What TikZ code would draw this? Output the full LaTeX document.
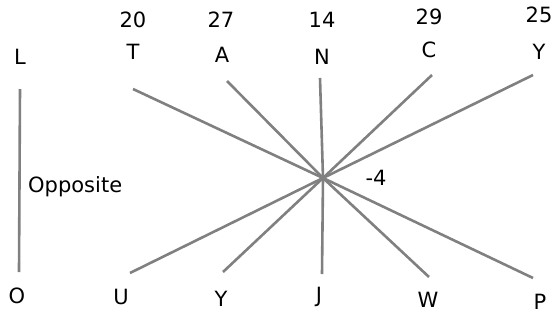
\documentclass[tikz,border=0pt]{standalone}
\usepackage{fontspec}
\setmainfont{DejaVu Sans}
\usepackage{tikz}

\begin{document}
\begin{tikzpicture}[
  x=1pt, y=-1pt,
  spoke/.style={draw=black!50, line width=2.6pt},
  letter/.style={font=\fontsize{21}{25}\selectfont, inner sep=0pt},
  score/.style={font=\fontsize{21}{25}\selectfont, inner sep=0pt}
]
\useasboundingbox (0,0) rectangle (556,332);

% Centre of the star
\coordinate (hub) at (323,178);

% Top row: letters and scores
\node[letter] (l) at (20,57) {L};
\node[letter] (t) at (133,52) {T};
\node[letter] (a) at (222,55) {A};
\node[letter] (n) at (322,57) {N};
\node[letter] (c) at (429,50) {C};
\node[letter] (y1) at (539,52) {Y};
\node[score] (st) at (133,20) {20};
\node[score] (sa) at (221,20) {27};
\node[score] (sn) at (322,20) {14};
\node[score] (sc) at (429,17) {29};
\node[score] (sy) at (539,15) {25};

% Bottom row
\node[letter] (o) at (17,296) {O};
\node[letter] (u) at (121,297) {U};
\node[letter] (y2) at (221,299) {Y};
\node[letter] (j) at (319,297) {J};
\node[letter] (w) at (428,300) {W};
\node[letter] (p) at (540,302) {P};

% Line ends
\coordinate (lt) at (20,89);
\coordinate (lb) at (19,272);
\coordinate (et) at (133,89);
\coordinate (ea) at (227,81);
\coordinate (en) at (320,78);
\coordinate (ec) at (432,75);
\coordinate (ey1) at (533,75);
\coordinate (eu) at (130,273);
\coordinate (ey2) at (223,272);
\coordinate (ej) at (322,274);
\coordinate (ew) at (429,277);
\coordinate (ep) at (533,278);

% Opposite pair
\draw[spoke] (lt) -- (lb);
\node[letter, anchor=west] (opp) at (28,187) {Opposite};

% Star
\foreach \e in {et,ea,en,ec,ey1,eu,ey2,ej,ew,ep}
  \draw[spoke] (hub) -- (\e);
\node[score] (sum) at (376,178) {-4};
\end{tikzpicture}
\end{document}
